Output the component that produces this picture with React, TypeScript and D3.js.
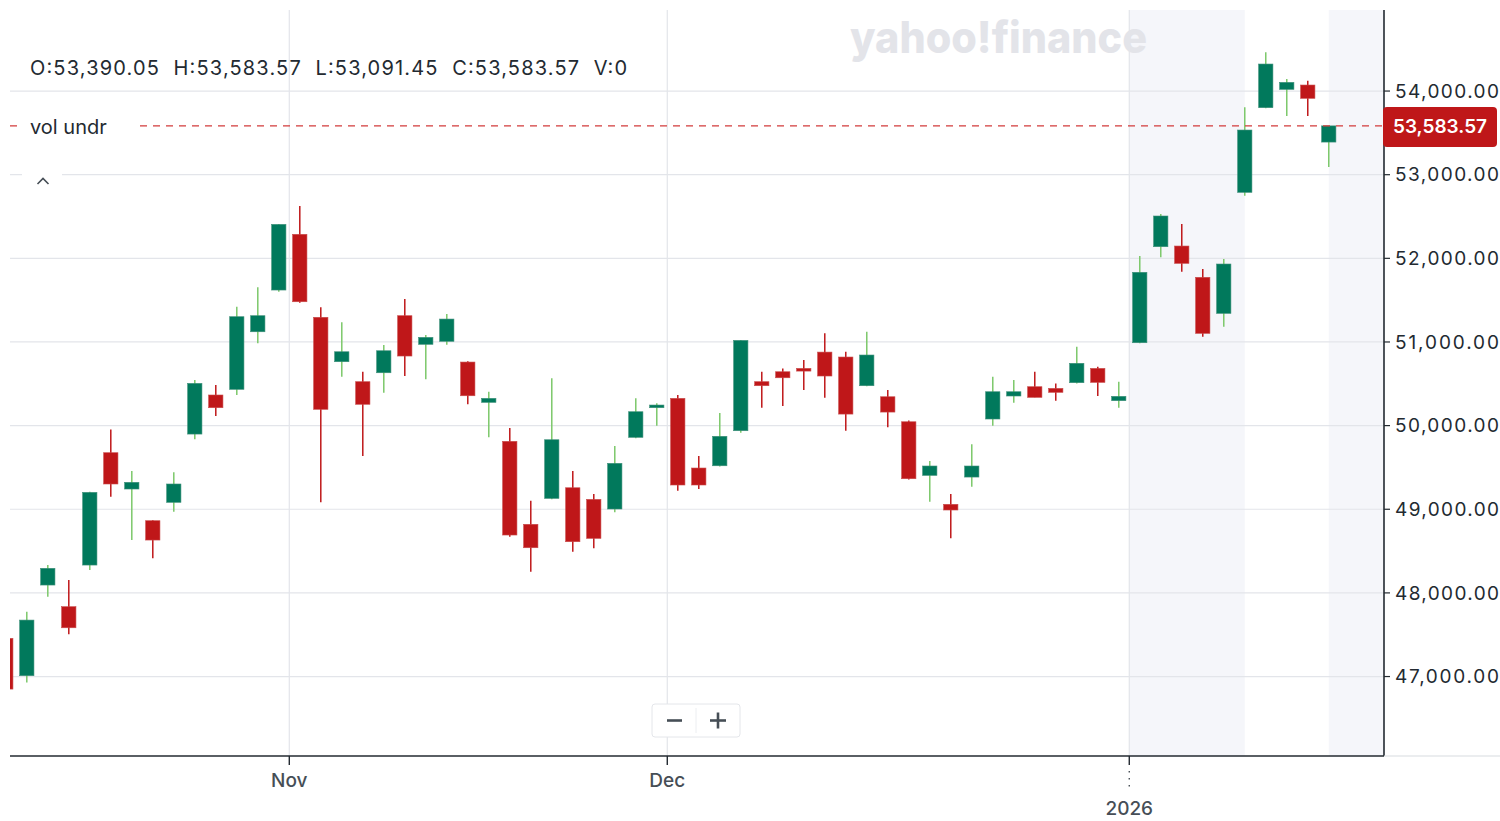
import React from "react";
import * as d3 from "d3";

// Nikkei 225 style daily candles, 14 Oct 2025 - 19 Jan 2026
const dates = [
  "2025-10-14", "2025-10-15", "2025-10-16", "2025-10-17", "2025-10-20", "2025-10-21", "2025-10-22",
  "2025-10-23", "2025-10-24", "2025-10-27", "2025-10-28", "2025-10-29", "2025-10-30", "2025-10-31",
  "2025-11-04", "2025-11-05", "2025-11-06", "2025-11-07", "2025-11-10", "2025-11-11", "2025-11-12",
  "2025-11-13", "2025-11-14", "2025-11-17", "2025-11-18", "2025-11-19", "2025-11-20", "2025-11-21",
  "2025-11-25", "2025-11-26", "2025-11-27", "2025-11-28",
  "2025-12-01", "2025-12-02", "2025-12-03", "2025-12-04", "2025-12-05", "2025-12-08", "2025-12-09",
  "2025-12-10", "2025-12-11", "2025-12-12", "2025-12-15", "2025-12-16", "2025-12-17", "2025-12-18",
  "2025-12-19", "2025-12-22", "2025-12-23", "2025-12-24", "2025-12-25", "2025-12-26", "2025-12-29",
  "2025-12-30",
  "2026-01-05", "2026-01-06", "2026-01-07", "2026-01-08", "2026-01-09", "2026-01-13", "2026-01-14",
  "2026-01-15", "2026-01-16", "2026-01-19",
];

const opens = [
  47457, 47010, 48094, 47835, 48333, 49676, 49242, 48863, 49083, 49899, 50366, 50434, 51122, 51621,
  52287, 51295, 50764, 50525, 50632, 51314, 50972, 51008, 50760, 50278, 49812, 48820, 49130, 49257,
  49118, 49003, 49860, 50214,
  50326, 49493, 49520, 49939, 50525, 50644, 50684, 50879, 50820, 50477, 50345, 50046, 49405, 49059,
  49385, 50079, 50354, 50465, 50445, 50513, 50684, 50298,
  50991, 52139, 52147, 51773, 51342, 52789, 53801, 54020, 54072, 53390.05,
];
const highs = [
  47680, 47775, 48333, 48154, 49210, 49955, 49457, 48870, 49441, 50545, 50485, 51421, 51653, 52410,
  52625, 51414, 51235, 50644, 50963, 51513, 51083, 51334, 50770, 50405, 49971, 49102, 50565, 49457,
  49182, 49756, 50326, 50266,
  50366, 49636, 50150, 51025, 50644, 50684, 50784, 51103, 50883, 51123, 50425, 50060, 49577, 49182,
  49776, 50584, 50545, 50644, 50505, 50943, 50704, 50525,
  52028, 52530, 52410, 51872, 51992, 53805, 54463, 54144, 54124, 53583.57,
];
const lows = [
  46544, 46930, 47954, 47505, 48273, 49150, 48632, 48413, 48970, 49836, 50114, 50366, 50984, 51600,
  51470, 49083, 50584, 49636, 50393, 50593, 50553, 50967, 50254, 49860, 48671, 48253, 49120, 48492,
  48533, 48963, 49850, 49999,
  49222, 49242, 49510, 49915, 50214, 50234, 50425, 50333, 49939, 50470, 49980, 49355, 49090, 48652,
  49269, 49999, 50273, 50338, 50298, 50505, 50354, 50214,
  50985, 52012, 51840, 51063, 51182, 52748, 53795, 53701, 53701, 53091.45,
];
const closes = [
  46850, 47675, 48294, 47583, 49202, 49302, 49322, 48632, 49302, 50505, 50214, 51302, 51314, 52406,
  51481, 50195, 50883, 50255, 50895, 50832, 51055, 51274, 50357, 50326, 48692, 48540, 49831, 48612,
  48652, 49549, 50166, 50246,
  49290, 49290, 49872, 51019, 50477, 50572, 50652, 50593, 50138, 50844, 50162, 49365, 49517, 48991,
  49517, 50405, 50405, 50338, 50398, 50745, 50517, 50350,
  51833, 52506, 51940, 51103, 51932, 53534, 54323, 54104, 53913, 53583.57,
];

const priceTicks = [47000, 48000, 49000, 50000, 51000, 52000, 53000, 54000];
const lastPrice = 53583.57;
const ohlcText = "O:53,390.05  H:53,583.57  L:53,091.45  C:53,583.57  V:0";
const seriesName = "vol undr";
// shaded sessions, in candle-index units
const shadedRanges = [
  [53.5, 59],
  [63, 66],
];

const W = 1500;
const H = 821;
const plot = { left: 10, right: 1384, top: 10, bottom: 756 };

const GREEN = "#01795c";
const GREEN_WICK = "#7cc86a";
const RED = "#bf1719";
const GRID = "#e3e5ea";
const INK = "#232a31";
const MUTED = "#464e56";
const FONT = "Inter, 'Liberation Sans', sans-serif";

export default function App() {
  const parse = d3.timeParse("%Y-%m-%d");
  const days = dates.map((d) => parse(d) as Date);

  const x = d3.scaleLinear().domain([0.2, 65.63]).range([plot.left, plot.right]);
  const y = d3.scaleLinear().domain([46050, 54969]).range([plot.bottom, plot.top]);
  const step = x(1) - x(0);
  const bodyW = step * 0.68;

  // month boundaries between consecutive sessions
  const months = days
    .map((d, i) => ({ d, i }))
    .filter(({ d, i }) => i > 0 && d.getMonth() !== days[i - 1].getMonth())
    .map(({ d, i }) => ({
      pos: i - 0.5,
      label: d.getMonth() === 0 ? d3.timeFormat("%Y")(d) : d3.timeFormat("%b")(d),
      isYear: d.getMonth() === 0,
    }));

  const fmt = d3.format(",.2f");

  return (
    <svg
      width={W}
      height={H}
      style={{ position: "absolute", left: 0, top: 0, background: "#fff" }}
      fontFamily={FONT}
    >
      <defs>
        <clipPath id="plotClip">
          <rect x={plot.left} y={plot.top} width={plot.right - plot.left} height={plot.bottom - plot.top} />
        </clipPath>
      </defs>

      {/* shaded bands */}
      <g clipPath="url(#plotClip)">
        {shadedRanges.map(([a, b], i) => (
          <rect
            key={i}
            x={x(a)}
            y={plot.top}
            width={Math.min(x(b), plot.right) - x(a)}
            height={plot.bottom - plot.top}
            fill="#f5f6fa"
          />
        ))}
      </g>

      {/* horizontal grid */}
      {priceTicks.map((t) => (
        <line key={t} x1={plot.left} x2={plot.right} y1={y(t)} y2={y(t)} stroke={GRID} strokeWidth={1.2} />
      ))}
      {/* vertical grid at month changes */}
      {months.map((m) => (
        <line key={m.label} x1={x(m.pos)} x2={x(m.pos)} y1={plot.top} y2={plot.bottom} stroke={GRID} strokeWidth={1.2} />
      ))}

      {/* watermark */}
      <text
        x={850}
        y={53}
        fontSize={44}
        fontWeight={800}
        fill="#e3e4e9"
        textLength={297}
        lengthAdjust="spacingAndGlyphs"
      >
        yahoo!finance
      </text>

      {/* candles */}
      <g clipPath="url(#plotClip)">
        {days.map((d, i) => {
          const up = closes[i] >= opens[i];
          const cx = x(i);
          const top = y(Math.max(opens[i], closes[i]));
          const bot = y(Math.min(opens[i], closes[i]));
          return (
            <g key={dates[i]}>
              <line
                x1={cx}
                x2={cx}
                y1={y(highs[i])}
                y2={y(lows[i])}
                stroke={up ? GREEN_WICK : RED}
                strokeWidth={1.5}
              />
              <rect
                x={cx - bodyW / 2}
                y={top}
                width={bodyW}
                height={Math.max(bot - top, 2)}
                fill={up ? GREEN : RED}
                stroke={up ? "#3d8f78" : "#c94a4a"}
                strokeWidth={0.6}
              />
            </g>
          );
        })}
      </g>

      {/* last price line */}
      <line
        x1={plot.left}
        x2={plot.right}
        y1={y(lastPrice)}
        y2={y(lastPrice)}
        stroke="#d23b3b"
        strokeWidth={1.3}
        strokeDasharray="7 6"
      />

      {/* legend / header */}
      <text x={30} y={75} fontSize={20} fill={INK} textLength={597} lengthAdjust="spacing" style={{ whiteSpace: "pre" }}>
        {ohlcText}
      </text>
      <rect x={22} y={114} width={116} height={26} fill="#fff" />
      <text x={30} y={134} fontSize={20} fill={INK}>
        {seriesName}
      </text>
      <rect x={22} y={166} width={40} height={22} fill="#fff" />
      <path d="M37.5,184 L43,178.5 L48.5,184" fill="none" stroke={MUTED} strokeWidth={1.6} />

      {/* right axis */}
      <line x1={plot.right} x2={plot.right} y1={plot.top} y2={plot.bottom} stroke={INK} strokeWidth={1.6} />
      {priceTicks.map((t) => (
        <g key={t}>
          <line x1={plot.right} x2={plot.right + 6} y1={y(t)} y2={y(t)} stroke={INK} strokeWidth={1.2} />
          <text
            x={1395}
            y={y(t)}
            dy="0.35em"
            fontSize={19}
            fill={INK}
            textLength={104}
            lengthAdjust="spacing"
          >
            {fmt(t)}
          </text>
        </g>
      ))}
      <rect x={1383} y={107} width={114} height={40} rx={4} fill={RED} />
      <text x={1440} y={y(lastPrice)} dy="0.35em" fontSize={19} fontWeight={600} fill="#fff" textAnchor="middle">
        {fmt(lastPrice)}
      </text>

      {/* bottom axis */}
      <line x1={plot.right} x2={W} y1={plot.bottom} y2={plot.bottom} stroke="#d8dbe0" strokeWidth={1.2} />
      <line x1={plot.left} x2={plot.right} y1={plot.bottom} y2={plot.bottom} stroke={INK} strokeWidth={1.6} />
      {months.map((m) => (
        <g key={m.label}>
          <line x1={x(m.pos)} x2={x(m.pos)} y1={plot.bottom} y2={plot.bottom + 9} stroke={INK} strokeWidth={1.4} />
          {m.isYear && (
            <line
              x1={x(m.pos)}
              x2={x(m.pos)}
              y1={plot.bottom + 15}
              y2={plot.bottom + 34}
              stroke={MUTED}
              strokeWidth={1.4}
              strokeDasharray="1.4 5.6"
            />
          )}
          <text
            x={x(m.pos)}
            y={m.isYear ? 815 : 787}
            fontSize={19}
            fontWeight={500}
            fill={MUTED}
            textAnchor="middle"
          >
            {m.label}
          </text>
        </g>
      ))}

      {/* zoom control */}
      <g>
        <rect x={652} y={704} width={88} height={33} rx={3} fill="#fff" stroke="#e4e6ea" strokeWidth={1} />
        <line x1={696} x2={696} y1={708} y2={733} stroke="#eceef1" strokeWidth={1} />
        <line x1={667} x2={682} y1={720.5} y2={720.5} stroke={MUTED} strokeWidth={2.6} />
        <line x1={710} x2={726} y1={720.5} y2={720.5} stroke={MUTED} strokeWidth={2.6} />
        <line x1={718} x2={718} y1={712.5} y2={728.5} stroke={MUTED} strokeWidth={2.6} />
      </g>
    </svg>
  );
}
